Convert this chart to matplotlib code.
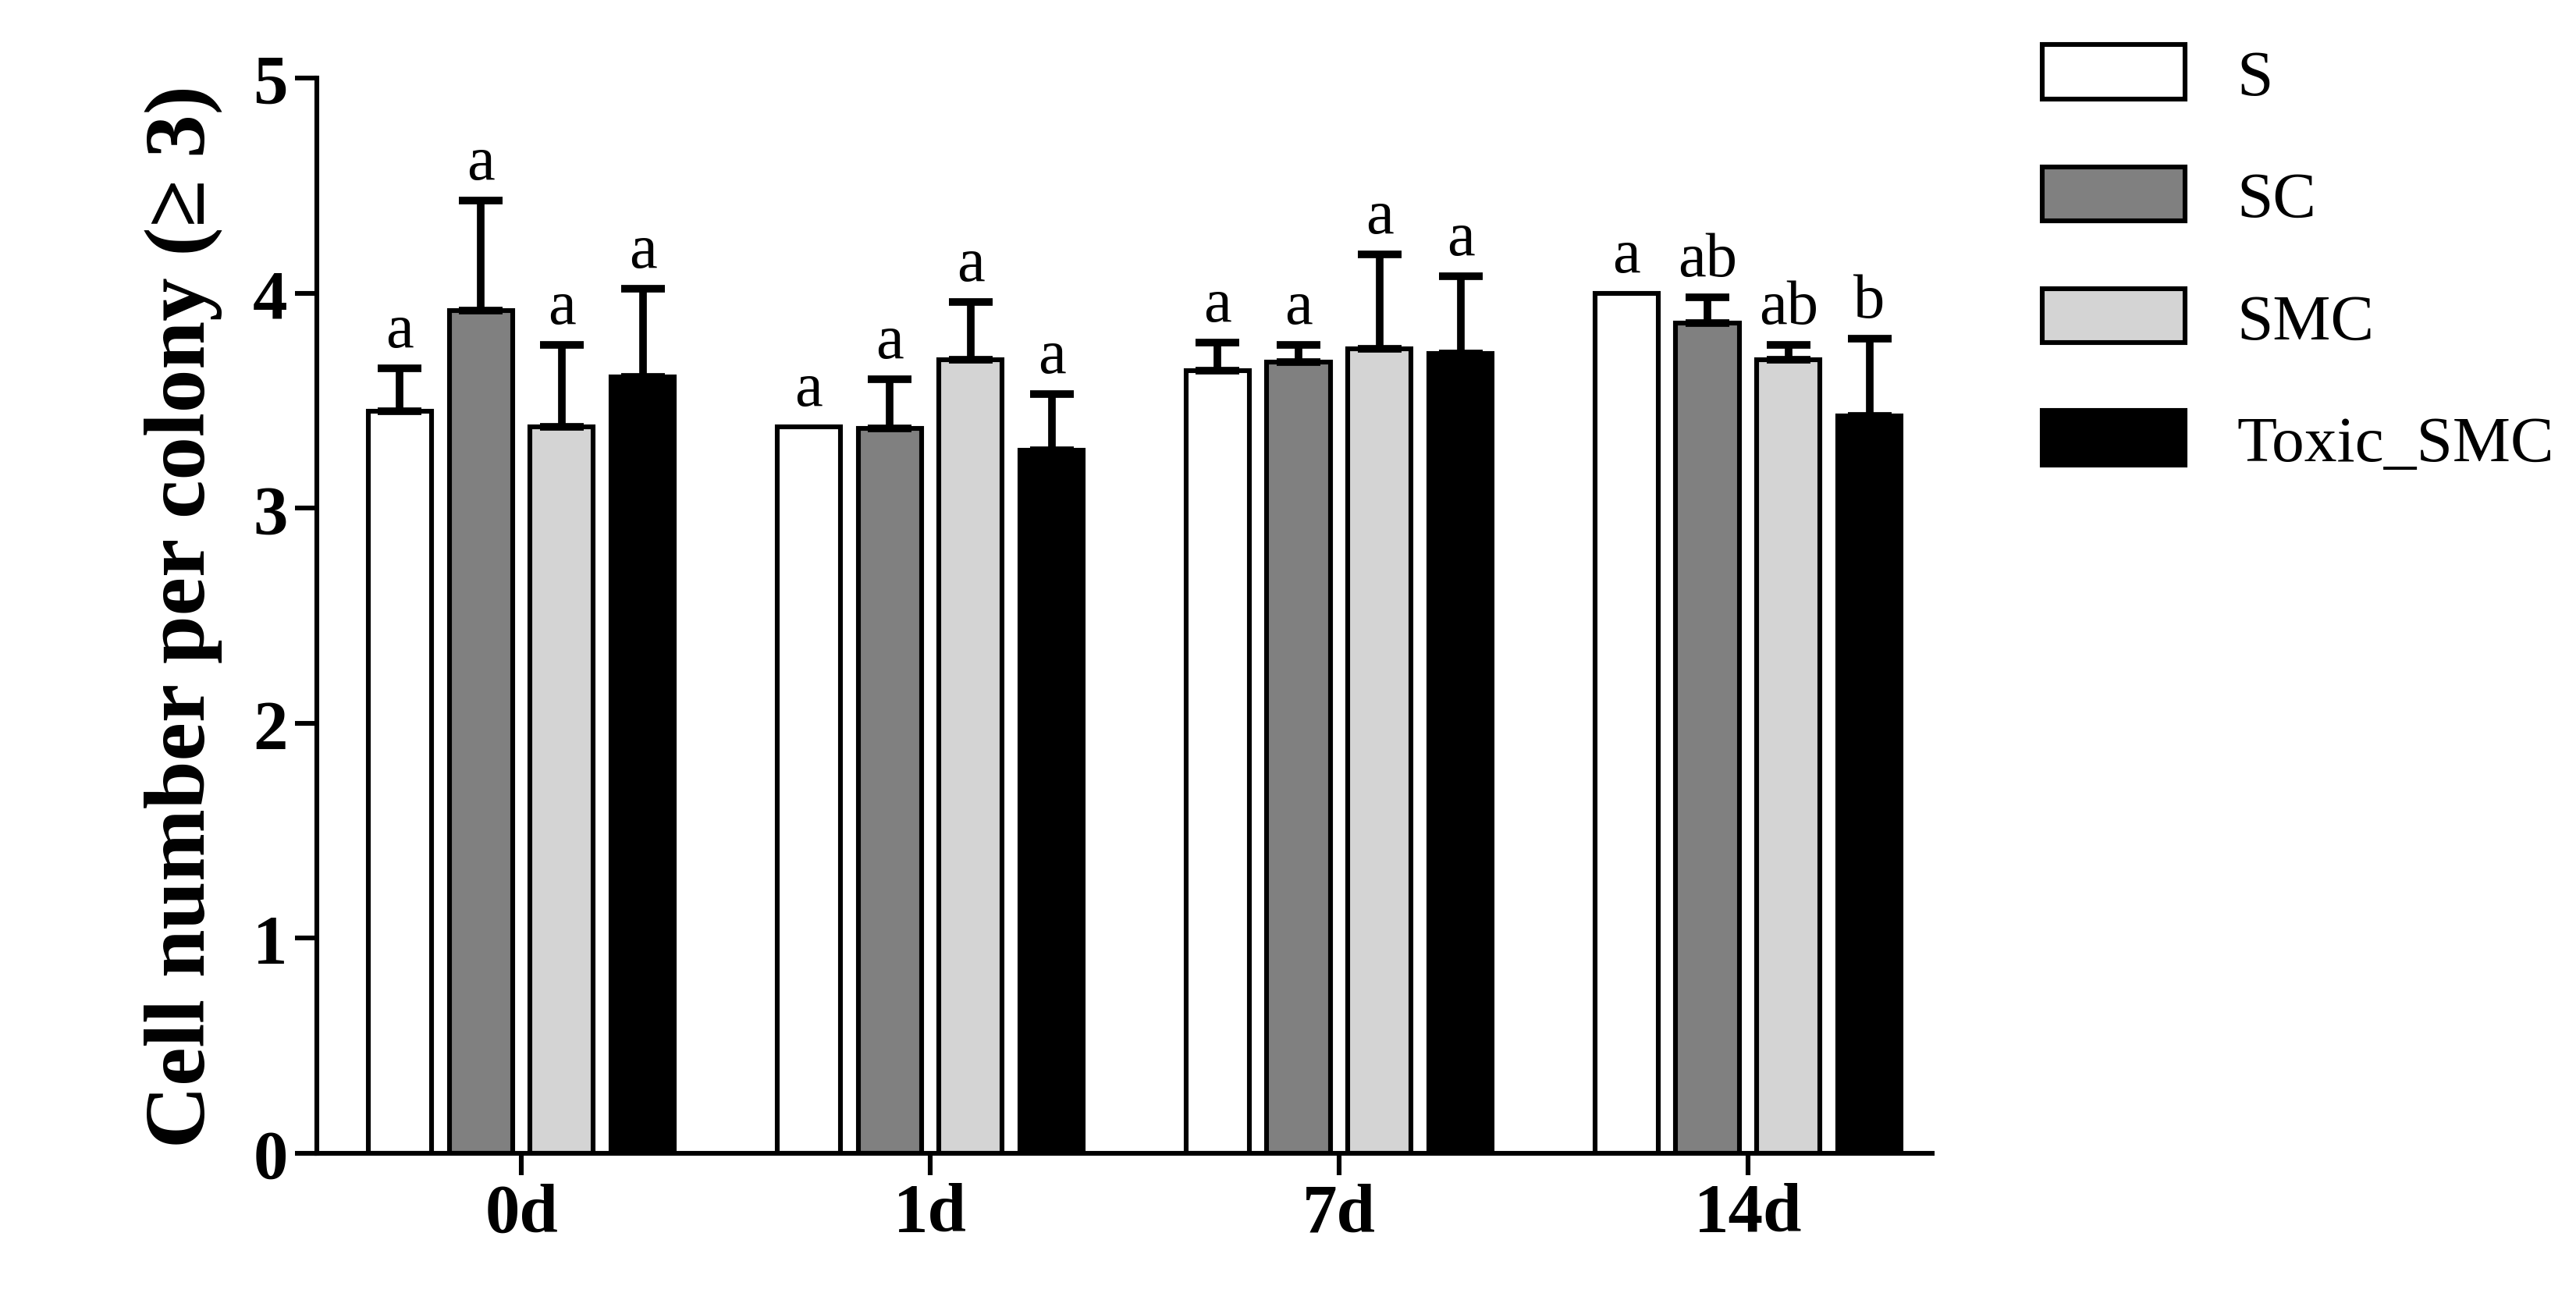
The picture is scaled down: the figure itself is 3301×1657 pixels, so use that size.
import matplotlib
matplotlib.use("Agg")
import matplotlib.pyplot as plt
import numpy as np
from matplotlib.patches import Patch

plt.rcParams["font.family"] = ["Liberation Serif", "DejaVu Serif"]

days = ["0d", "1d", "7d", "14d"]
groups = ["S", "SC", "SMC", "Toxic_SMC"]
colors = ["white", "#808080", "#d4d4d4", "black"]
means = {
    "S": [3.45, 3.38, 3.64, 4.00],
    "SC": [3.92, 3.37, 3.68, 3.86],
    "SMC": [3.38, 3.69, 3.74, 3.69],
    "Toxic_SMC": [3.61, 3.27, 3.72, 3.43],
}
errs = {
    "S": [0.20, 0.0, 0.13, 0.0],
    "SC": [0.51, 0.23, 0.08, 0.12],
    "SMC": [0.38, 0.27, 0.44, 0.07],
    "Toxic_SMC": [0.41, 0.26, 0.36, 0.36],
}
letters = {
    "S": ["a", "a", "a", "a"],
    "SC": ["a", "a", "a", "ab"],
    "SMC": ["a", "a", "a", "ab"],
    "Toxic_SMC": ["a", "a", "a", "b"],
}

fig = plt.figure(figsize=(16.505, 8.29), dpi=200)
ax = fig.add_axes([0.123, 0.108, 0.627, 0.831])
x = np.arange(len(days))
w, step = 0.155, 0.198
for i, g in enumerate(groups):
    xs = x + (i - 1.5) * step
    ax.bar(xs, means[g], w, color=colors[i], edgecolor="black", linewidth=2.2, zorder=2)
    for xi, m, e, lab in zip(xs, means[g], errs[g], letters[g]):
        if e > 0:
            ax.errorbar(xi, m, yerr=[[0], [e]], fmt="none", ecolor="black",
                        elinewidth=3.5, capsize=10, capthick=3.5, zorder=3)
        ax.text(xi, m + e + 0.04, lab, ha="center", va="bottom", fontsize=29)

ax.set_xlim(-0.5, 3.45)
ax.set_ylim(0, 5)
ax.set_yticks(range(6))
ax.set_xticks(x)
ax.set_xticklabels(days)
for lab in ax.get_xticklabels() + ax.get_yticklabels():
    lab.set_fontweight("bold")
    lab.set_fontsize(32)
ax.tick_params(width=2.2, length=10, direction="out")
ax.spines["top"].set_visible(False)
ax.spines["right"].set_visible(False)
ax.spines["left"].set_linewidth(2.2)
ax.spines["bottom"].set_linewidth(2.2)
ax.set_ylabel("Cell number per colony (≥ 3)", fontsize=40, fontweight="bold", labelpad=14)

handles = [Patch(facecolor=c, edgecolor="black", linewidth=2.2) for c in colors]
fig.legend(handles, groups, loc="upper left", bbox_to_anchor=(0.77, 1.01), frameon=False,
           fontsize=30, handlelength=2.2, handleheight=0.9, labelspacing=0.9, handletextpad=0.8)

fig.savefig("out.png", dpi=200)
